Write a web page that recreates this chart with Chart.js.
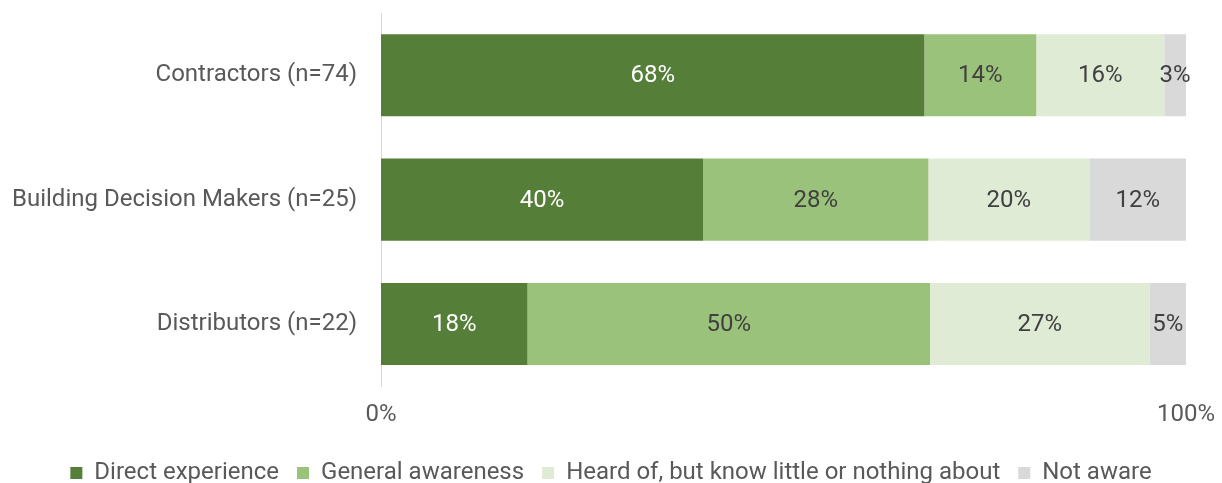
<!DOCTYPE html>
<html>
<head>
<meta charset="utf-8">
<script src="https://cdn.jsdelivr.net/npm/chart.js@4"></script>
<style>
  html, body { margin: 0; padding: 0; background: #fff; }
  #wrap { width: 1222px; height: 483px; position: relative; }
</style>
</head>
<body>
<div id="wrap"><canvas id="awarenessChart"></canvas></div>
<script>
// groups (top to bottom)
var groups = ['Contractors (n=74)', 'Building Decision Makers (n=25)', 'Distributors (n=22)'];

// share of each group, in %
var directExperience = [67.5, 40, 18.2];
var generalAwareness = [13.9, 28, 50];
var heardOf = [15.9, 20, 27.3];
var notAware = [2.7, 12, 4.5];

var seriesNames = ['Direct experience', 'General awareness', 'Heard of, but know little or nothing about', 'Not aware'];
var seriesColors = ['#557E38', '#9BC27B', '#DFEBD5', '#D9D9D9'];
var labelColors = ['#ffffff', '#404040', '#404040', '#404040'];

var xTicks = [0, 100];

// draws the % text in the middle of every segment
var segmentLabels = {
    id: 'segmentLabels',
    afterDatasetsDraw: function(chart) {
        var ctx = chart.ctx;
        ctx.save();
        ctx.font = '24px Roboto';
        ctx.textAlign = 'center';
        ctx.textBaseline = 'middle';
        chart.data.datasets.forEach(function(ds, i) {
            var meta = chart.getDatasetMeta(i);
            meta.data.forEach(function(bar, j) {
                ctx.fillStyle = labelColors[i];
                ctx.fillText(Math.round(ds.data[j]) + '%', (bar.x + bar.base) / 2, bar.y + 1);
            });
        });
        ctx.restore();
    }
};

var vals = [directExperience, generalAwareness, heardOf, notAware];

new Chart(document.getElementById('awarenessChart'), {
    type: 'bar',
    data: {
        labels: groups,
        datasets: vals.map(function(v, i) {
            return {
                label: seriesNames[i],
                data: v,
                backgroundColor: seriesColors[i],
                borderWidth: 0,
                categoryPercentage: 0.66,
                barPercentage: 1
            };
        })
    },
    options: {
        indexAxis: 'y',
        responsive: true,
        maintainAspectRatio: false,
        animation: false,
        layout: { padding: { top: 13, right: 0, left: 0, bottom: -12 } },
        scales: {
            x: {
                stacked: true,
                min: 0,
                max: 100,
                afterBuildTicks: function(scale) {
                    scale.ticks = xTicks.map(function(v) { return { value: v }; });
                },
                afterFit: function(scale) {
                    scale.paddingRight = 36;
                },
                grid: { display: false, drawTicks: false },
                border: { display: false },
                ticks: {
                    padding: 14,
                    color: '#595959',
                    font: { family: 'Roboto', size: 24 },
                    callback: function(v) { return v + '%'; }
                }
            },
            y: {
                stacked: true,
                grid: { display: false, drawTicks: false },
                border: { display: true, color: '#D9D9D9', width: 1 },
                afterFit: function(scale) {
                    scale.width = 381;
                    scale.paddingTop = 0;
                    scale.paddingBottom = 0;
                },
                ticks: {
                    padding: 24,
                    color: '#595959',
                    font: { family: 'Roboto', size: 24 }
                }
            }
        },
        plugins: {
            legend: {
                position: 'bottom',
                labels: {
                    boxWidth: 12,
                    boxHeight: 12,
                    padding: 18,
                    color: '#595959',
                    font: { family: 'Roboto', size: 24 }
                }
            },
            tooltip: { enabled: false }
        }
    },
    plugins: [segmentLabels]
});
</script>
</body>
</html>
